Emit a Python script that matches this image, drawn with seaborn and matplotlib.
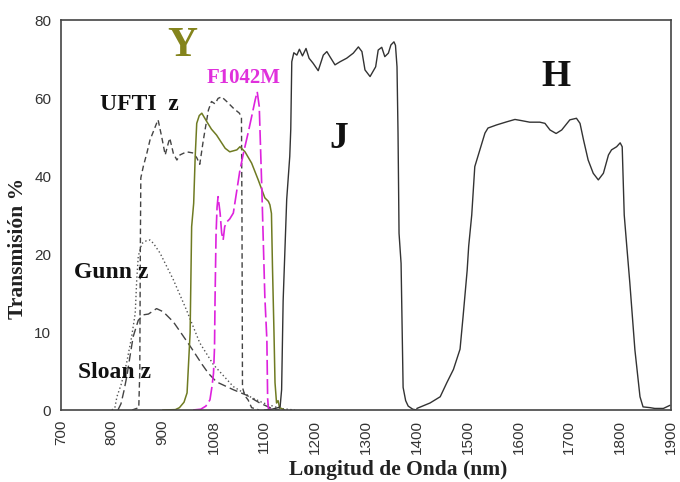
import numpy as np
import pandas as pd
import matplotlib
matplotlib.use("Agg")
import matplotlib.pyplot as plt
import seaborn as sns

# Filter transmission curves: wavelength (nm) and transmission (%)
ufti_nm = [840, 853, 855, 856, 857, 862, 869, 875, 882, 888, 891, 898, 905, 911, 914,
           921, 928, 934, 947, 960, 967, 973, 980, 990, 996, 1003, 1009, 1016, 1026,
           1039, 1051, 1055, 1056, 1057, 1062, 1068, 1075, 1090]
ufti_pct = [0, 0.3, 5, 20, 39.5, 42.5, 45.9, 49.2, 51.5, 53.5, 54.4, 50.1, 45.4, 48.4, 49.7,
            45.8, 44.1, 45.4, 46.2, 45.9, 44.7, 43.0, 49.2, 56.9, 59.1, 58.5, 59.9, 60.3, 59.1,
            57.4, 56.1, 55.0, 30.0, 2.9, 1.8, 1.3, 0.3, 0]

gunn_nm = [800, 806, 810, 819, 829, 839, 846, 849, 852, 859, 868, 875, 882, 895, 921,
           947, 973, 1000, 1039, 1072, 1098, 1131, 1160]
gunn_pct = [0, 0.3, 1.7, 3.4, 6.0, 9.4, 12.4, 16.7, 19.7, 22.7, 23.4, 23.6, 22.7, 20.2, 16.7,
            12.8, 8.6, 5.8, 3.0, 1.7, 0.9, 0.2, 0]

sloan_nm = [812, 818, 824, 830, 836, 842, 852, 862, 872, 888, 901, 921, 937, 957, 978,
            990, 1006, 1039, 1065, 1091, 1118, 1130]
sloan_pct = [0, 0.8, 2.5, 4.5, 7.0, 9.4, 11.5, 12.2, 12.3, 13.0, 12.6, 11.3, 9.8, 7.9, 5.8,
             4.7, 3.6, 2.6, 1.9, 0.9, 0.1, 0]

y_nm = [900, 925, 933, 942, 948, 954, 957, 961, 964, 967, 972, 977, 987, 996, 1006,
        1023, 1032, 1046, 1052, 1062, 1075, 1088, 1101, 1108, 1111, 1114, 1116, 1119,
        1121, 1124, 1127, 1130, 1140]
y_pct = [0, 0.05, 0.3, 1.0, 2.2, 9.9, 27.0, 33.0, 45.0, 53.5, 55.5, 56.1, 53.9, 52.0, 50.5,
         47.1, 46.2, 46.7, 47.5, 46.2, 43.3, 39.0, 34.4, 33.5, 32.6, 30.4, 18.4, 9.9,
         3.5, 0.9, 1.2, 0.3, 0]

f1042m_nm = [960, 975, 985, 993, 997, 1000, 1002, 1003, 1005, 1007, 1009, 1013, 1016,
             1019, 1022, 1026, 1032, 1039, 1046, 1052, 1059, 1068, 1075, 1082, 1086,
             1090, 1095, 1101, 1105, 1106.5, 1108, 1115]
f1042m_pct = [0, 0.1, 0.5, 1.3, 3.0, 4.7, 8.0, 14.0, 25.0, 32.0, 34.7, 30.5, 25.4,
              23.6, 27.0, 28.2, 29.0, 30.5, 36.4, 41.5, 45.9, 51.0, 55.2, 59.5, 61.6,
              57.8, 37.0, 14.5, 9.0, 1.5, 0.2, 0]

j_nm = [1100, 1115, 1121, 1127, 1131, 1134, 1137, 1144, 1150, 1152, 1154, 1158, 1164,
        1169, 1175, 1182, 1188, 1196, 1206, 1216, 1223, 1229, 1239, 1249, 1262, 1275,
        1285, 1292, 1298, 1308, 1319, 1324, 1331, 1337, 1344, 1349, 1355, 1358, 1361,
        1363, 1365, 1369, 1373, 1378, 1383, 1392, 1400]
j_pct = [0, 0.1, 0.2, 0.3, 0.4, 2.6, 14.0, 34.0, 45.0, 52.0, 69.3, 71.6, 71.0,
         72.5, 70.8, 72.7, 70.2, 68.9, 67.0, 71.0, 71.9, 70.6, 68.5, 69.3, 70.2, 71.5,
         73.1, 71.9, 67.2, 65.5, 68.0, 72.3, 73.0, 70.6, 71.5, 73.6, 74.4, 73.5, 68.0,
         51.0, 25.3, 18.8, 2.9, 1.2, 0.5, 0.1, 0]

h_nm = [1400, 1426, 1446, 1459, 1472, 1485, 1491, 1499, 1502, 1508, 1514, 1524, 1534,
        1540, 1557, 1577, 1593, 1606, 1622, 1642, 1652, 1662, 1674, 1685, 1701, 1714,
        1721, 1728, 1737, 1747, 1757, 1767, 1777, 1783, 1793, 1800, 1804, 1808, 1813,
        1819, 1829, 1839, 1845, 1859, 1868, 1885, 1898]
h_pct = [0.2, 0.9, 1.7, 3.5, 5.2, 7.8, 12.0, 17.9, 22.0, 30.0, 42.4, 46.7, 51.0,
         52.3, 53.1, 53.9, 54.5, 54.2, 53.8, 53.8, 53.5, 51.8, 50.9, 51.8, 54.4, 54.8,
         53.5, 49.2, 44.1, 40.7, 39.0, 40.7, 45.4, 46.7, 47.5, 48.5, 47.5, 30.0, 22.0,
         16.3, 7.7, 1.7, 0.4, 0.3, 0.2, 0.2, 0.6]

# Axis ticks
x_ticks = [700, 800, 900, 1000, 1100, 1200, 1300, 1400, 1500, 1600, 1700, 1800, 1900]
x_tick_labels = ["700", "800", "900", "1008", "1100", "1200", "1300", "1400", "1500",
                 "1600", "1700", "1800", "1900"]
y_ticks = [0, 10, 20, 40, 60, 80]
y_tick_labels = ["0", "10", "20", "40", "60", "80"]
y_minor = [2.5, 5, 7.5, 12.5, 15, 17.5, 25, 30, 35, 45, 50, 55, 65, 70, 75]

sns.set_style("white")
plt.rcParams["font.family"] = ["Liberation Serif", "DejaVu Serif"]

fig = plt.figure(figsize=(6.8, 4.82), dpi=100)
fig.patch.set_facecolor("white")
ax = fig.add_axes([61 / 680, 1 - 410 / 482, 610 / 680, 390 / 482])


# transmission axis: 10 % per division up to 20 %, 20 % per division above
def fwd(v):
    v = np.asarray(v, dtype=float)
    return np.where(v <= 20, v / 10.0, 2 + (v - 20) / 20.0)


def inv(t):
    t = np.asarray(t, dtype=float)
    return np.where(t <= 2, t * 10.0, 20 + (t - 2) * 20.0)


ax.set_yscale("function", functions=(fwd, inv))

curves = [
    (gunn_nm, gunn_pct, "#555555", (0, (1.0, 1.8)), 1.0),
    (sloan_nm, sloan_pct, "#444444", (0, (6, 3)), 1.0),
    (ufti_nm, ufti_pct, "#444444", (0, (4, 2.5)), 1.0),
    (y_nm, y_pct, "#6f7b22", "-", 1.1),
    (f1042m_nm, f1042m_pct, "#dd22dd", (0, (9, 2.5)), 1.2),
    (j_nm, j_pct, "#333333", "-", 1.0),
    (h_nm, h_pct, "#333333", "-", 1.0),
]
for nm, pct, col, ls, lw in curves:
    df = pd.DataFrame({"nm": nm, "pct": pct})
    sns.lineplot(data=df, x="nm", y="pct", ax=ax, color=col, linestyle=ls,
                 linewidth=lw, sort=False, estimator=None)

ax.set_xlim(700, 1900)
ax.set_ylim(0, 80)
ax.set_xlabel("")
ax.set_ylabel("")

tick_font = {"family": "Liberation Sans", "size": 11}
ax.set_xticks(x_ticks, labels=x_tick_labels, rotation=90, fontdict=tick_font, color="#333333")
ax.set_xticks([1000, 1500], minor=True)
ax.xaxis.remove_overlapping_locs = False
ax.set_yticks(y_ticks, labels=y_tick_labels, fontdict=tick_font, color="#333333")
ax.set_yticks(y_minor, minor=True)
ax.tick_params(axis="x", which="major", direction="in", length=3, width=1,
               color="#444444", pad=7)
ax.tick_params(axis="x", which="minor", direction="in", length=7, width=1,
               color="#444444")
ax.tick_params(axis="y", which="major", direction="in", length=12, width=1,
               color="#444444", pad=7)
ax.tick_params(axis="y", which="minor", direction="in", length=7.5, width=1,
               color="#444444")
for s in ax.spines.values():
    s.set_visible(True)
    s.set_color("#444444")
    s.set_linewidth(1.2)
ax.grid(False)

lab = dict(fontfamily="Liberation Serif", fontweight="bold", color="#222222")
fig.text(398 / 680, 1 - 470 / 482, "Longitud de Onda (nm)", ha="center", va="center",
         fontsize=15.5, **lab)
fig.text(18 / 680, 1 - 248 / 482, "Transmisión %", ha="center", va="center",
         rotation=90, fontsize=15.5, **lab)

ann = dict(fontfamily="Liberation Serif", fontweight="bold", ha="center", va="center")
fig.text(182 / 680, 1 - 46 / 482, "Y", fontsize=30, color="#84841c", **ann)
fig.text(244 / 680, 1 - 78 / 482, "F1042M", fontsize=15, color="#e030dc", **ann)
fig.text(139 / 680, 1 - 104 / 482, "UFTI  z", fontsize=17, color="#111111", **ann)
fig.text(339 / 680, 1 - 138 / 482, "J", fontsize=27, color="#111111", **ann)
fig.text(556 / 680, 1 - 76 / 482, "H", fontsize=27, color="#111111", **ann)
fig.text(111 / 680, 1 - 272 / 482, "Gunn z", fontsize=17, color="#111111", **ann)
fig.text(115 / 680, 1 - 372 / 482, "Sloan z", fontsize=17, color="#111111", **ann)

fig.savefig("out.png", dpi=100, facecolor="white")
